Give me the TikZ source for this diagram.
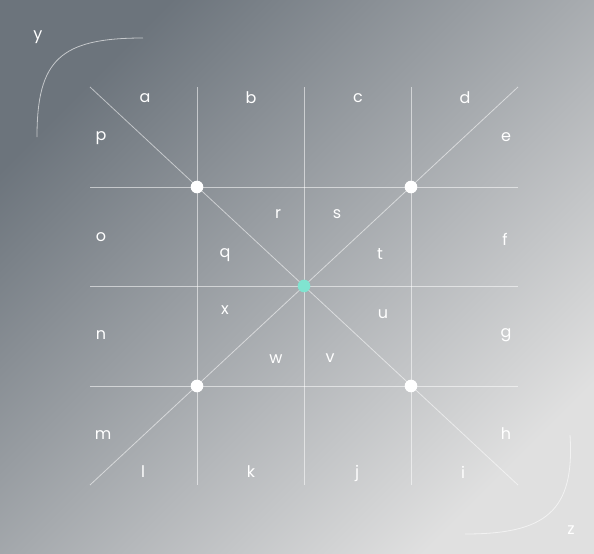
\documentclass[tikz,border=0pt]{standalone}
\usepackage{fontspec}
\setmainfont{Poppins}
\definecolor{bgdark}{RGB}{108,116,124}
\definecolor{bglight}{RGB}{224,224,224}
\definecolor{hubteal}{RGB}{128,228,208}
\begin{document}
\begin{tikzpicture}[x=0.75pt,y=0.75pt,yscale=-1,xscale=1,
    gridline/.style={draw=white, draw opacity=0.55, line width=0.6},
    cornerarc/.style={draw=white, draw opacity=0.6, line width=0.6},
    lbl/.style={text=white, inner sep=0.75pt, font=\fontsize{12}{14}\selectfont},
    knot/.style={circle, fill=white, inner sep=0pt, minimum size=9.5pt}]
                % Background
                \useasboundingbox (0,0) rectangle (594,554);
                \shade [shading=axis, top color=bgdark, bottom color=bglight, shading angle=45] (0,0) rectangle (594,554);

                % Frame corners and grid ends
                \coordinate (nw) at (90,87);
                \coordinate (ne) at (518,87);
                \coordinate (sw) at (90,485);
                \coordinate (se) at (518,485);
                \foreach \gx [count=\i] in {197,304,411} {
                    \coordinate (top\i) at (\gx,87);
                    \coordinate (bot\i) at (\gx,485);
                }
                \foreach \gy [count=\i] in {187,286,386} {
                    \coordinate (lft\i) at (90,\gy);
                    \coordinate (rgt\i) at (518,\gy);
                }

                % Grid lines
                \foreach \i in {1,2,3} {
                    \draw [gridline] (top\i) -- (bot\i);
                    \draw [gridline] (lft\i) -- (rgt\i);
                }
                % Diagonals
                \draw [gridline] (nw) -- (se);
                \draw [gridline] (ne) -- (sw);

                % Corner arcs
                \draw [cornerarc] (143,38) .. controls (60,38) and (37,60) .. (37,137);
                \draw [cornerarc] (570,435) .. controls (575,512) and (545,534) .. (465,534);

                % Knots
                \node [knot] (knotnw) at (197,187) {};
                \node [knot] (knotne) at (411,187) {};
                \node [knot] (knotsw) at (197,386) {};
                \node [knot] (knotse) at (411,386) {};
                \node [knot, fill=hubteal] (hub) at (304,286) {};

                % Axis labels
                \node [lbl] (laby) at (38,37) {y};
                \node [lbl] (labz) at (571,530) {z};

                % Outer labels
                \node [lbl] (laba) at (145,98) {a};
                \node [lbl] (labb) at (251,98) {b};
                \node [lbl] (labc) at (358,98) {c};
                \node [lbl] (labd) at (465,98) {d};
                \node [lbl] (labe) at (506,137) {e};
                \node [lbl] (labf) at (505,239) {f};
                \node [lbl] (labg) at (506,335) {g};
                \node [lbl] (labh) at (506,434) {h};
                \node [lbl] (labi) at (463,472) {i};
                \node [lbl] (labj) at (357,473) {j};
                \node [lbl] (labk) at (251,472) {k};
                \node [lbl] (labl) at (143,472) {l};
                \node [lbl] (labm) at (103,435) {m};
                \node [lbl] (labn) at (101,335) {n};
                \node [lbl] (labo) at (101,237) {o};
                \node [lbl] (labp) at (101,138) {p};

                % Inner labels
                \node [lbl] (labq) at (225,255) {q};
                \node [lbl] (labr) at (278,214) {r};
                \node [lbl] (labs) at (337,214) {s};
                \node [lbl] (labt) at (380,254) {t};
                \node [lbl] (labu) at (383,314) {u};
                \node [lbl] (labv) at (330,358) {v};
                \node [lbl] (labw) at (276,359) {w};
                \node [lbl] (labx) at (225,310) {x};
\end{tikzpicture}
\end{document}
